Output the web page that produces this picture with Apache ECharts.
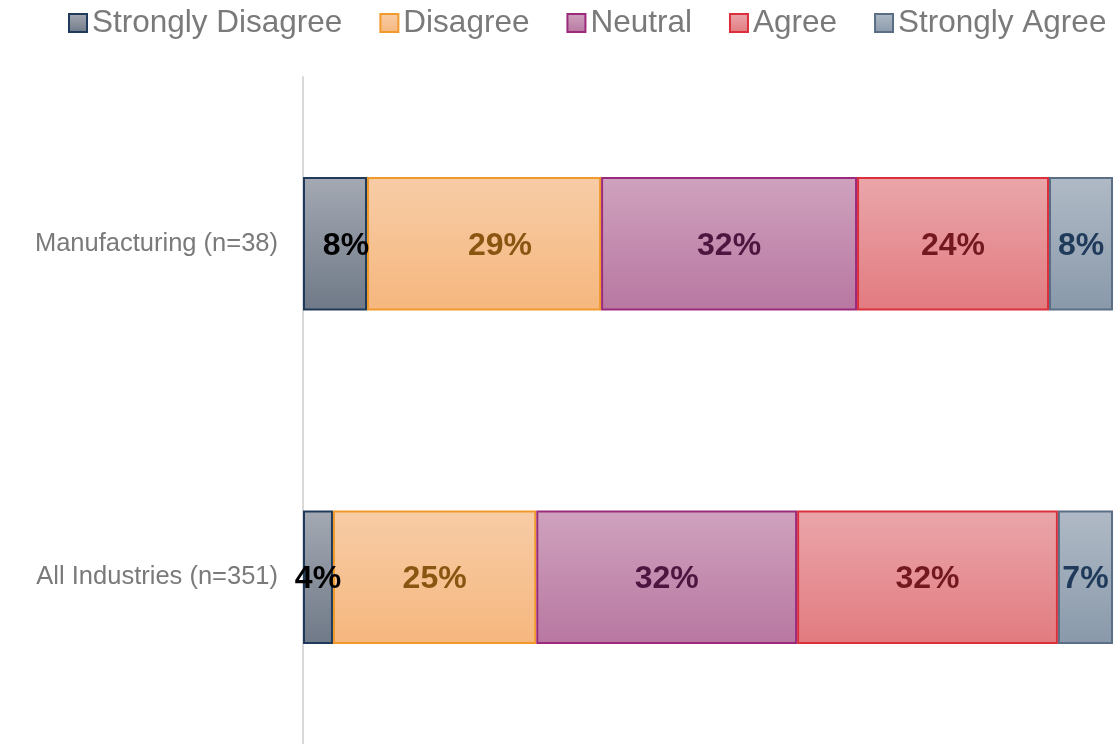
<!DOCTYPE html>
<html>
<head>
<meta charset="utf-8">
<script src="https://cdn.jsdelivr.net/npm/echarts@6/dist/echarts.min.js"></script>
<style>html,body{margin:0;padding:0;background:#fff;}#c{width:1113px;height:744px;}</style>
</head>
<body>
<div id="c"></div>
<script>
const categories = ['Manufacturing (n=38)', 'All Industries (n=351)'];
const seriesNames = ['Strongly Disagree', 'Disagree', 'Neutral', 'Agree', 'Strongly Agree'];
const stronglyDisagree = [7.9, 3.7];
const disagree = [28.9, 25.1];
const neutral = [31.6, 32.2];
const agree = [23.7, 32.2];
const stronglyAgree = [7.9, 6.8];

const values = [stronglyDisagree, disagree, neutral, agree, stronglyAgree];
const styles = [
  {top: '#a4a9b3', bottom: '#6f7987', border: '#1f3a5a', label: '#000000'},
  {top: '#f7cca6', bottom: '#f6b77e', border: '#f09a2c', label: '#8a5510'},
  {top: '#cfa2be', bottom: '#b877a1', border: '#9c2a7c', label: '#4c1640'},
  {top: '#eaa6aa', bottom: '#e27b80', border: '#dc2f3c', label: '#741820'},
  {top: '#b0bac6', bottom: '#8999aa', border: '#5a6f86', label: '#1f3a5a'}
];
// horizontal label nudges seen in the reference (series index -> category index -> px)
const labelNudge = {0: {0: 11}, 1: {0: 16}};

const chart = echarts.init(document.getElementById('c'), null, {renderer: 'canvas'});
const series = seriesNames.map((name, i) => ({
  name: name,
  type: 'bar',
  stack: 'total',
  barWidth: '40%',
  data: values[i].map((v, j) => {
    const dx = labelNudge[i] && labelNudge[i][j];
    return dx ? {value: v, label: {offset: [dx, 2]}} : v;
  }),
  itemStyle: {
    color: new echarts.graphic.LinearGradient(0, 0, 0, 1, [
      {offset: 0, color: styles[i].top},
      {offset: 1, color: styles[i].bottom}
    ]),
    borderColor: styles[i].border,
    borderWidth: 2
  },
  label: {
    show: true,
    position: 'inside',
    formatter: p => Math.round(p.value) + '%',
    fontFamily: 'Liberation Sans, Arial, sans-serif',
    fontWeight: 'bold',
    fontSize: 32,
    color: styles[i].label,
    offset: [0, 2]
  },
  emphasis: {disabled: true}
}));

chart.setOption({
  animation: false,
  backgroundColor: '#ffffff',
  legend: {
    left: 68,
    top: 7,
    padding: 0,
    width: 1045,
    itemWidth: 18,
    itemHeight: 18,
    itemGap: 37,
    icon: 'rect',
    textStyle: {fontFamily: 'Liberation Sans, Arial, sans-serif', fontSize: 31.5, color: '#7a7a7a'},
    data: seriesNames
  },
  grid: {left: 303, right: 0, top: 77, bottom: -6, containLabel: false},
  xAxis: {
    type: 'value', min: 0, max: 100, show: false
  },
  yAxis: {
    type: 'category',
    inverse: true,
    data: categories,
    axisLine: {show: true, lineStyle: {color: '#d9d9d9', width: 2}},
    axisTick: {show: false},
    axisLabel: {fontFamily: 'Liberation Sans, Arial, sans-serif', fontSize: 25.5, color: '#7a7a7a', margin: 25}
  },
  series: series
});
</script>
</body>
</html>
